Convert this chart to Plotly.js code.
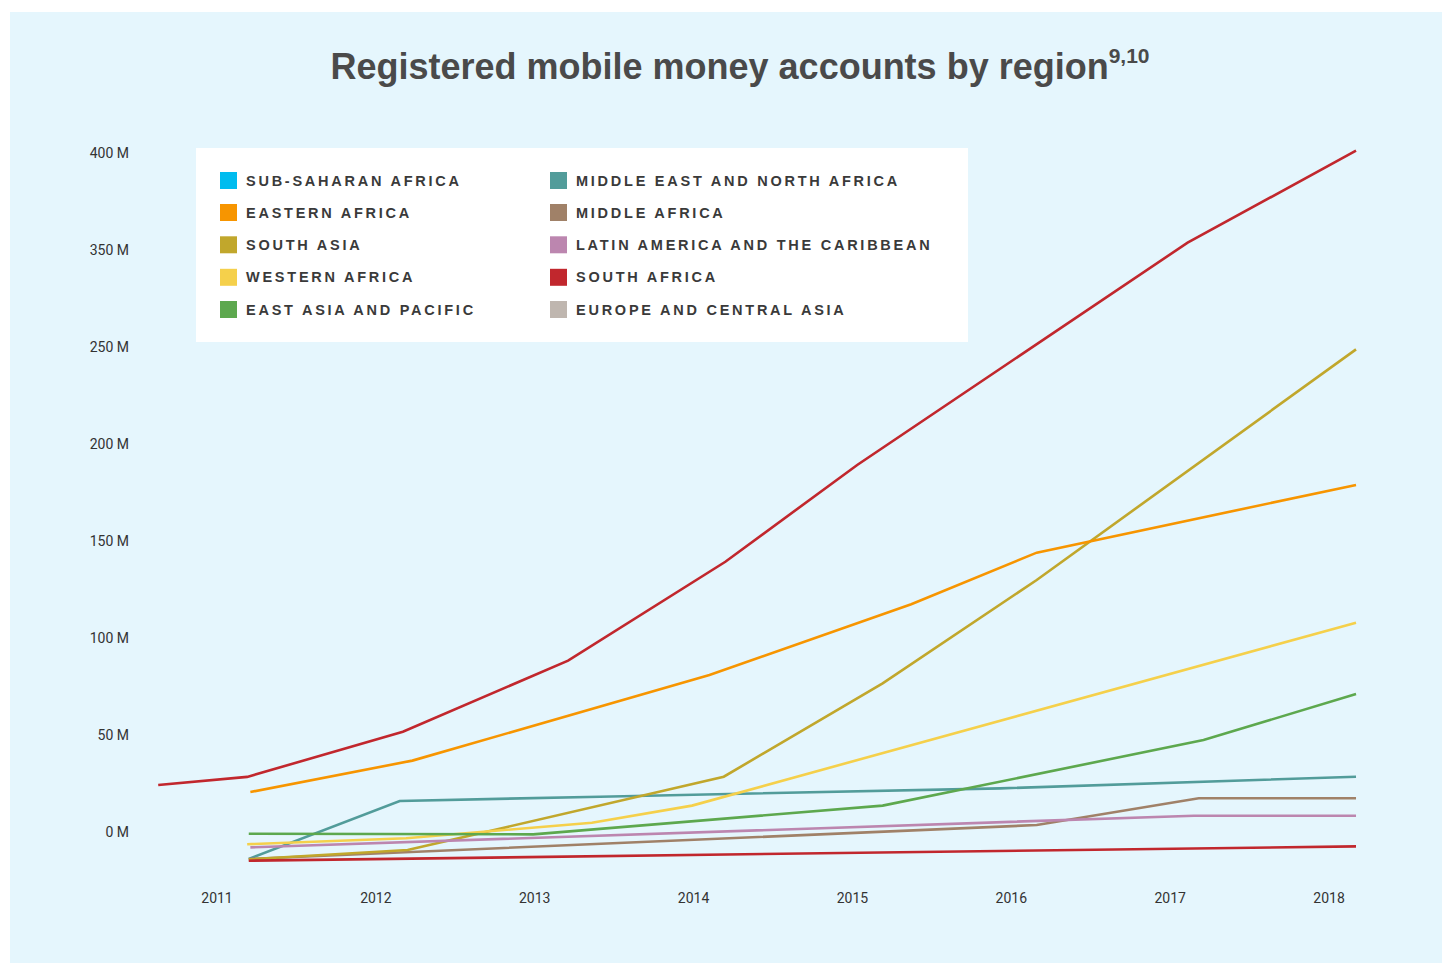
<!DOCTYPE html>
<html><head><meta charset="utf-8">
<script src="https://cdn.plot.ly/plotly-3.0.1.min.js"></script>
<style>
html,body{margin:0;padding:0;background:#ffffff;}
#chart{position:absolute;left:10px;top:12px;width:1432px;height:951px;}
.annotation-text{letter-spacing:2.75px;}
</style></head><body><div id="chart"></div>
<script>
// ---- data ----
const yearTicks = [2011, 2012, 2013, 2014, 2015, 2016, 2017, 2018];
const yearLabels = ['2011', '2012', '2013', '2014', '2015', '2016', '2017', '2018'];
const yTickVals = [0, 50, 100, 150, 200, 250, 300, 350];
const yTickText = ['0 M', '50 M', '100 M', '150 M', '200 M', '250 M', '350 M', '400 M'];

const subSaharanX = [2010.63, 2011.19, 2012.17, 2013.21, 2014.20, 2015.03, 2017.11, 2018.17];
const subSaharanY = [24.2, 28.4, 51.7, 88.3, 139.3, 189.2, 303.8, 351.2];

const easternX = [2011.21, 2012.23, 2014.10, 2015.37, 2016.16, 2018.17];
const easternY = [20.6, 36.8, 80.9, 117.4, 144.0, 178.9];

const southAsiaX = [2011.20, 2012.20, 2014.19, 2015.19, 2016.16, 2018.17];
const southAsiaY = [-14.1, -9.3, 28.5, 76.6, 129.9, 248.8];

const westernX = [2011.19, 2012.19, 2013.36, 2013.99, 2018.17];
const westernY = [-6.3, -3.2, 4.8, 13.6, 107.9];

const eastAsiaX = [2011.20, 2012.99, 2015.19, 2017.21, 2018.17];
const eastAsiaY = [-0.9, -1.2, 13.6, 47.4, 71.1];

const menaX = [2011.20, 2012.15, 2013.41, 2015.93, 2018.17];
const menaY = [-13.9, 16.0, 18.2, 22.5, 28.5];

const middleAfricaX = [2011.20, 2016.16, 2017.18, 2018.17];
const middleAfricaY = [-13.9, 3.6, 17.4, 17.4];

const latamX = [2011.21, 2017.15, 2018.17];
const latamY = [-7.9, 8.4, 8.4];

const southAfricaX = [2011.20, 2018.17];
const southAfricaY = [-14.8, -7.4];

const legendLabelsCol1 = ['SUB-SAHARAN AFRICA', 'EASTERN AFRICA', 'SOUTH ASIA', 'WESTERN AFRICA', 'EAST ASIA AND PACIFIC'];
const legendColorsCol1 = ['#00BCEF', '#F79500', '#C1A72C', '#F5D04B', '#5DA84E'];
const legendLabelsCol2 = ['MIDDLE EAST AND NORTH AFRICA', 'MIDDLE AFRICA', 'LATIN AMERICA AND THE CARIBBEAN', 'SOUTH AFRICA', 'EUROPE AND CENTRAL ASIA'];
const legendColorsCol2 = ['#529C9A', '#A08168', '#BC86AF', '#C1272D', '#BFB6AF'];

// ---- traces ----
function line(name, x, y, color) {
  return {type: 'scatter', mode: 'lines', name: name, x: x, y: y,
          line: {color: color, width: 2.6}, showlegend: false, hoverinfo: 'x+y+name'};
}
const traces = [
  line('Middle East and North Africa', menaX, menaY, '#529C9A'),
  line('Middle Africa', middleAfricaX, middleAfricaY, '#A08168'),
  line('South Asia', southAsiaX, southAsiaY, '#C1A72C'),
  line('Latin America and the Caribbean', latamX, latamY, '#BC86AF'),
  line('Western Africa', westernX, westernY, '#F5D04B'),
  line('East Asia and Pacific', eastAsiaX, eastAsiaY, '#5DA84E'),
  line('Eastern Africa', easternX, easternY, '#F79500'),
  line('Sub-Saharan Africa', subSaharanX, subSaharanY, '#C1272D'),
  line('South Africa', southAfricaX, southAfricaY, '#C1272D')
];

// ---- layout helpers (page pixels -> paper) ----
const W = 1432, H = 951, M = {l: 128, r: 34, t: 123, b: 83};
const OX = 10, OY = 12;
const PW = W - M.l - M.r, PH = H - M.t - M.b;
const px = v => (v - OX - M.l) / PW;
const py = v => (H - M.b - (v - OY)) / PH;

const shapes = [{type: 'rect', xref: 'paper', yref: 'paper',
  x0: px(196), x1: px(968), y0: py(342), y1: py(148),
  fillcolor: '#ffffff', line: {width: 0}, layer: 'below'}];
const annotations = [];
const rowY = [180.5, 212.5, 244.8, 277.3, 309.5];
function addCol(labels, colors, sqX, txtX) {
  labels.forEach((lab, i) => {
    shapes.push({type: 'rect', xref: 'paper', yref: 'paper',
      x0: px(sqX), x1: px(sqX + 17), y0: py(rowY[i] + 8.5), y1: py(rowY[i] - 8.5),
      fillcolor: colors[i], line: {width: 0}});
    annotations.push({xref: 'paper', yref: 'paper', x: px(txtX), y: py(rowY[i]),
      xanchor: 'left', yanchor: 'middle', showarrow: false, text: lab,
      font: {family: 'Liberation Sans, Arial, sans-serif', size: 14.5, color: '#3a3a3a', weight: 'bold'}});
  });
}
addCol(legendLabelsCol1, legendColorsCol1, 220, 244);
addCol(legendLabelsCol2, legendColorsCol2, 550, 574);

const layout = {
  width: W, height: H,
  margin: M,
  paper_bgcolor: '#E5F6FD', plot_bgcolor: '#E5F6FD',
  title: {text: 'Registered mobile money accounts by region<sup><span style="font-size:21px">9,10</span></sup>',
    font: {family: 'Liberation Sans, Arial, sans-serif', size: 36, color: '#4a4a4a', weight: 'bold'},
    xref: 'container', yref: 'container', x: (740 - OX) / W, y: 1 - (66 - OY) / H,
    xanchor: 'center', yanchor: 'middle'},
  xaxis: {range: [2010.5027, 2018.4972], tickvals: yearTicks, ticktext: yearLabels,
    showgrid: false, zeroline: false, showline: false, ticks: '',
    ticklabelstandoff: 8,
    tickfont: {family: 'Roboto, sans-serif', size: 14, color: '#333333'}},
  yaxis: {range: [-24.74, 359.28], tickvals: yTickVals, ticktext: yTickText,
    showgrid: false, zeroline: false, showline: false, ticks: '',
    ticklabelstandoff: 8,
    tickfont: {family: 'Roboto, sans-serif', size: 14, color: '#333333'}},
  shapes: shapes,
  annotations: annotations,
  showlegend: false
};
Plotly.newPlot('chart', traces, layout, {displayModeBar: false, staticPlot: true});
</script></body></html>
